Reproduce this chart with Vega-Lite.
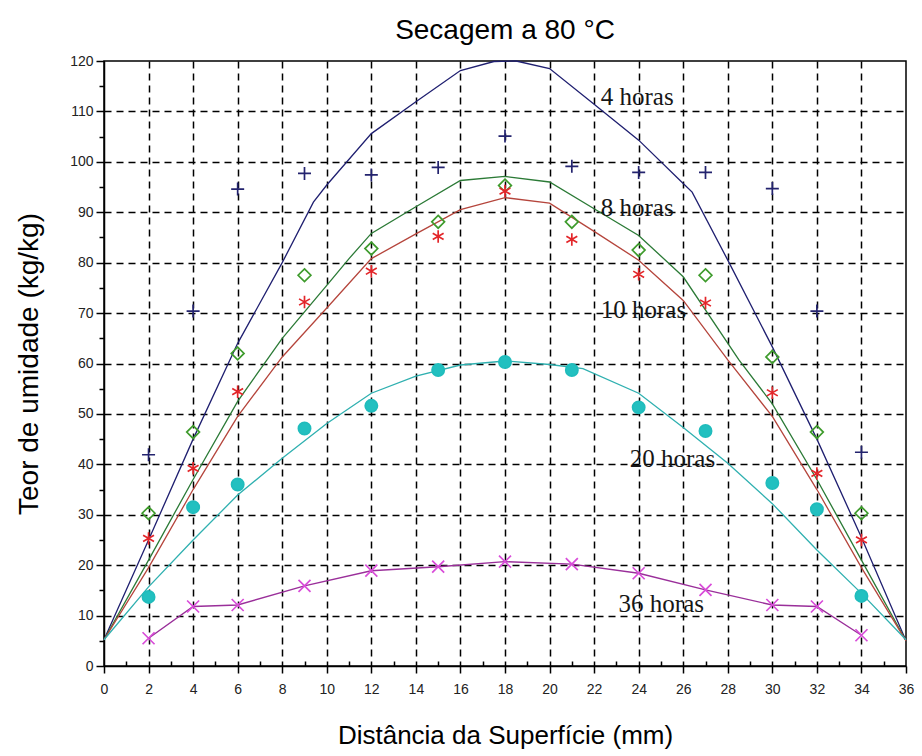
{
  "$schema": "https://vega.github.io/schema/vega-lite/v6.json",
  "width": 802,
  "height": 605,
  "autosize": {"type": "none"},
  "padding": {"left": 104, "top": 61, "right": 16, "bottom": 90},
  "background": "white",
  "config": {
    "view": {"stroke": "black", "strokeWidth": 1.5},
    "font": "Liberation Sans"
  },
  "title": {
    "text": "Secagem a 80 °C",
    "font": "Liberation Sans",
    "fontSize": 28,
    "fontWeight": "normal",
    "color": "black",
    "anchor": "middle",
    "baseline": "bottom",
    "offset": 14,
    "dy": 33
  },
  "datasets": {
    "curvas": [
      {"serie": "4 horas", "x": 0, "y": 5.2}, {"serie": "4 horas", "x": 2, "y": 25}, {"serie": "4 horas", "x": 4, "y": 45},
      {"serie": "4 horas", "x": 6, "y": 64}, {"serie": "4 horas", "x": 8, "y": 80}, {"serie": "4 horas", "x": 9.4, "y": 92},
      {"serie": "4 horas", "x": 10, "y": 95.4}, {"serie": "4 horas", "x": 12, "y": 105.6}, {"serie": "4 horas", "x": 14, "y": 111.9},
      {"serie": "4 horas", "x": 16, "y": 118.1}, {"serie": "4 horas", "x": 17.5, "y": 119.9}, {"serie": "4 horas", "x": 18.5, "y": 120},
      {"serie": "4 horas", "x": 20, "y": 118.5}, {"serie": "4 horas", "x": 22, "y": 111.4}, {"serie": "4 horas", "x": 24, "y": 104.3},
      {"serie": "4 horas", "x": 26, "y": 95.7}, {"serie": "4 horas", "x": 26.4, "y": 94}, {"serie": "4 horas", "x": 28, "y": 80.5},
      {"serie": "4 horas", "x": 30, "y": 63.3}, {"serie": "4 horas", "x": 32, "y": 45}, {"serie": "4 horas", "x": 34, "y": 25.5},
      {"serie": "4 horas", "x": 36, "y": 5},
      {"serie": "8 horas", "x": 0, "y": 5.2}, {"serie": "8 horas", "x": 2, "y": 21}, {"serie": "8 horas", "x": 4, "y": 37},
      {"serie": "8 horas", "x": 6, "y": 52.5}, {"serie": "8 horas", "x": 8, "y": 65}, {"serie": "8 horas", "x": 10, "y": 75.5},
      {"serie": "8 horas", "x": 11, "y": 80.8}, {"serie": "8 horas", "x": 12, "y": 85.8}, {"serie": "8 horas", "x": 14, "y": 91.1},
      {"serie": "8 horas", "x": 16, "y": 96.3}, {"serie": "8 horas", "x": 18, "y": 97.1}, {"serie": "8 horas", "x": 20, "y": 96},
      {"serie": "8 horas", "x": 22, "y": 90.7}, {"serie": "8 horas", "x": 24, "y": 85.4}, {"serie": "8 horas", "x": 26, "y": 77.2},
      {"serie": "8 horas", "x": 28.5, "y": 60.7}, {"serie": "8 horas", "x": 30, "y": 52}, {"serie": "8 horas", "x": 32, "y": 37},
      {"serie": "8 horas", "x": 34, "y": 21}, {"serie": "8 horas", "x": 36, "y": 5},
      {"serie": "10 horas", "x": 0, "y": 5.2}, {"serie": "10 horas", "x": 2, "y": 19.5}, {"serie": "10 horas", "x": 4, "y": 35},
      {"serie": "10 horas", "x": 6, "y": 49.5}, {"serie": "10 horas", "x": 8, "y": 61.3}, {"serie": "10 horas", "x": 10, "y": 71},
      {"serie": "10 horas", "x": 12, "y": 80.8}, {"serie": "10 horas", "x": 14, "y": 85.7}, {"serie": "10 horas", "x": 16, "y": 90.5},
      {"serie": "10 horas", "x": 18, "y": 92.9}, {"serie": "10 horas", "x": 20, "y": 91.8}, {"serie": "10 horas", "x": 22, "y": 86.2},
      {"serie": "10 horas", "x": 24, "y": 80.5}, {"serie": "10 horas", "x": 26, "y": 72.5}, {"serie": "10 horas", "x": 28, "y": 60.7},
      {"serie": "10 horas", "x": 30, "y": 49.5}, {"serie": "10 horas", "x": 32, "y": 35}, {"serie": "10 horas", "x": 34, "y": 19.5},
      {"serie": "10 horas", "x": 36, "y": 5},
      {"serie": "20 horas", "x": 0, "y": 5.2}, {"serie": "20 horas", "x": 2, "y": 15.7}, {"serie": "20 horas", "x": 4, "y": 25},
      {"serie": "20 horas", "x": 6, "y": 33.9}, {"serie": "20 horas", "x": 8, "y": 41.2}, {"serie": "20 horas", "x": 10, "y": 48.1},
      {"serie": "20 horas", "x": 12, "y": 54.1}, {"serie": "20 horas", "x": 14, "y": 57.5}, {"serie": "20 horas", "x": 16, "y": 59.7},
      {"serie": "20 horas", "x": 18, "y": 60.5}, {"serie": "20 horas", "x": 20, "y": 59.8}, {"serie": "20 horas", "x": 21.5, "y": 59},
      {"serie": "20 horas", "x": 24, "y": 54.1}, {"serie": "20 horas", "x": 26, "y": 47.3}, {"serie": "20 horas", "x": 28, "y": 40.2},
      {"serie": "20 horas", "x": 30, "y": 32.2}, {"serie": "20 horas", "x": 32, "y": 23}, {"serie": "20 horas", "x": 34, "y": 14.4},
      {"serie": "20 horas", "x": 36, "y": 5.2}
    ],
    "medidas": [
      {"serie": "4 horas", "x": 2, "y": 41.9}, {"serie": "4 horas", "x": 4, "y": 70.4}, {"serie": "4 horas", "x": 6, "y": 94.6},
      {"serie": "4 horas", "x": 9, "y": 97.7}, {"serie": "4 horas", "x": 12, "y": 97.4}, {"serie": "4 horas", "x": 15, "y": 98.9},
      {"serie": "4 horas", "x": 18, "y": 105.1}, {"serie": "4 horas", "x": 21, "y": 99.1}, {"serie": "4 horas", "x": 24, "y": 97.9},
      {"serie": "4 horas", "x": 27, "y": 97.9}, {"serie": "4 horas", "x": 30, "y": 94.7}, {"serie": "4 horas", "x": 32, "y": 70.4},
      {"serie": "4 horas", "x": 34, "y": 42.4},
      {"serie": "8 horas", "x": 2, "y": 30.3}, {"serie": "8 horas", "x": 4, "y": 46.4}, {"serie": "8 horas", "x": 6, "y": 62},
      {"serie": "8 horas", "x": 9, "y": 77.5}, {"serie": "8 horas", "x": 12, "y": 82.8}, {"serie": "8 horas", "x": 15, "y": 88.1},
      {"serie": "8 horas", "x": 18, "y": 95.3}, {"serie": "8 horas", "x": 21, "y": 88.1}, {"serie": "8 horas", "x": 24, "y": 82.5},
      {"serie": "8 horas", "x": 27, "y": 77.5}, {"serie": "8 horas", "x": 30, "y": 61.3}, {"serie": "8 horas", "x": 32, "y": 46.4},
      {"serie": "8 horas", "x": 34, "y": 30.3},
      {"serie": "10 horas", "x": 2, "y": 25.3}, {"serie": "10 horas", "x": 4, "y": 39.2}, {"serie": "10 horas", "x": 6, "y": 54.4},
      {"serie": "10 horas", "x": 9, "y": 72.2}, {"serie": "10 horas", "x": 12, "y": 78.3}, {"serie": "10 horas", "x": 15, "y": 85.2},
      {"serie": "10 horas", "x": 18, "y": 94.2}, {"serie": "10 horas", "x": 21, "y": 84.6}, {"serie": "10 horas", "x": 24, "y": 77.7},
      {"serie": "10 horas", "x": 27, "y": 72}, {"serie": "10 horas", "x": 30, "y": 54.2}, {"serie": "10 horas", "x": 32, "y": 38.2},
      {"serie": "10 horas", "x": 34, "y": 25},
      {"serie": "20 horas", "x": 2, "y": 13.7}, {"serie": "20 horas", "x": 4, "y": 31.5}, {"serie": "20 horas", "x": 6, "y": 36},
      {"serie": "20 horas", "x": 9, "y": 47.1}, {"serie": "20 horas", "x": 12, "y": 51.6}, {"serie": "20 horas", "x": 15, "y": 58.7},
      {"serie": "20 horas", "x": 18, "y": 60.3}, {"serie": "20 horas", "x": 21, "y": 58.7}, {"serie": "20 horas", "x": 24, "y": 51.3},
      {"serie": "20 horas", "x": 27, "y": 46.6}, {"serie": "20 horas", "x": 30, "y": 36.3}, {"serie": "20 horas", "x": 32, "y": 31.1},
      {"serie": "20 horas", "x": 34, "y": 13.9},
      {"serie": "36 horas", "x": 2, "y": 5.5}, {"serie": "36 horas", "x": 4, "y": 11.8}, {"serie": "36 horas", "x": 6, "y": 12.1},
      {"serie": "36 horas", "x": 9, "y": 15.9}, {"serie": "36 horas", "x": 12, "y": 18.9}, {"serie": "36 horas", "x": 15, "y": 19.7},
      {"serie": "36 horas", "x": 18, "y": 20.7}, {"serie": "36 horas", "x": 21, "y": 20.2}, {"serie": "36 horas", "x": 24, "y": 18.4},
      {"serie": "36 horas", "x": 27, "y": 15.1}, {"serie": "36 horas", "x": 30, "y": 12.1}, {"serie": "36 horas", "x": 32, "y": 11.8},
      {"serie": "36 horas", "x": 34, "y": 6.1}
    ],
    "rotulos": [
      {"texto": "4 horas", "x": 22.3, "y": 112.8},
      {"texto": "8 horas", "x": 22.3, "y": 90.8},
      {"texto": "10 horas", "x": 22.3, "y": 70.6},
      {"texto": "20 horas", "x": 23.6, "y": 41},
      {"texto": "36 horas", "x": 23.1, "y": 12.3}
    ]
  },
  "encoding": {
    "x": {
      "field": "x",
      "type": "quantitative",
      "scale": {"domain": [0, 36], "nice": false, "zero": false},
      "axis": {
        "values": [0, 1, 2, 3, 4, 5, 6, 7, 8, 9, 10, 11, 12, 13, 14, 15, 16, 17, 18, 19, 20, 21, 22, 23, 24, 25, 26, 27, 28, 29, 30, 31, 32, 33, 34, 35, 36],
        "title": "Distância da Superfície (mm)",
        "titleFont": "Liberation Sans",
        "titleFontSize": 26,
        "titleFontWeight": "normal",
        "titleColor": "black",
        "titlePadding": 26,
        "labelExpr": "datum.value % 2 === 0 ? datum.label : ''",
        "labelFont": "Liberation Sans",
        "labelFontSize": 14,
        "labelColor": "#222222",
        "labelPadding": 9,
        "labelFlush": false,
        "labelOverlap": false,
        "grid": true,
        "gridColor": "black",
        "gridDash": [7, 5],
        "gridWidth": 1.5,
        "gridOpacity": {"condition": {"test": "datum.value % 2 === 0 && datum.value > 0 && datum.value < 36", "value": 1}, "value": 0},
        "tickColor": "black",
        "tickWidth": 1.5,
        "tickSize": {"condition": {"test": "datum.value % 2 === 0", "value": 7}, "value": -5},
        "domainColor": "black",
        "domainWidth": 1.5
      }
    },
    "y": {
      "field": "y",
      "type": "quantitative",
      "scale": {"domain": [0, 120], "nice": false, "zero": false},
      "axis": {
        "values": [0, 5, 10, 15, 20, 25, 30, 35, 40, 45, 50, 55, 60, 65, 70, 75, 80, 85, 90, 95, 100, 105, 110, 115, 120],
        "title": "Teor de umidade (kg/kg)",
        "titleFont": "Liberation Sans",
        "titleFontSize": 28,
        "titleFontWeight": "normal",
        "titleColor": "black",
        "titlePadding": 26,
        "labelExpr": "datum.value % 10 === 0 ? datum.label : ''",
        "labelFont": "Liberation Sans",
        "labelFontSize": 14,
        "labelColor": "#222222",
        "labelPadding": 3,
        "labelOverlap": false,
        "grid": true,
        "gridColor": "black",
        "gridDash": [7, 5],
        "gridWidth": 1.5,
        "gridOpacity": {"condition": {"test": "datum.value % 10 === 0 && datum.value > 0 && datum.value < 120", "value": 1}, "value": 0},
        "tickColor": "black",
        "tickWidth": 1.5,
        "tickSize": {"condition": {"test": "datum.value % 10 === 0", "value": 8}, "value": 5},
        "domainColor": "black",
        "domainWidth": 1.5
      }
    }
  },
  "layer": [
    {
      "data": {"name": "curvas"},
      "mark": {"type": "line", "strokeWidth": 1.3},
      "encoding": {
        "color": {
          "field": "serie",
          "type": "nominal",
          "scale": {"domain": ["4 horas", "8 horas", "10 horas", "20 horas"], "range": ["#1f1f70", "#2b7a36", "#b5453c", "#2fb0b0"]},
          "legend": null
        },
        "order": {"field": "x", "type": "quantitative"}
      }
    },
    {
      "data": {"name": "medidas"},
      "transform": [{"filter": "datum.serie === '36 horas'"}],
      "mark": {"type": "line", "strokeWidth": 1.4, "color": "#9a2f9a"},
      "encoding": {"order": {"field": "x", "type": "quantitative"}}
    },
    {
      "data": {"name": "medidas"},
      "mark": {"type": "point", "strokeWidth": 1.7, "opacity": 1},
      "encoding": {
        "shape": {
          "field": "serie",
          "type": "nominal",
          "scale": {
            "domain": ["4 horas", "8 horas", "10 horas", "20 horas", "36 horas"],
            "range": ["M-1,0L1,0M0,-1L0,1", "M0,-1L1,0L0,1L-1,0Z", "M0,-1L0,1M-0.87,-0.5L0.87,0.5M-0.87,0.5L0.87,-0.5", "circle", "M-1,-1L1,1M-1,1L1,-1"]
          },
          "legend": null
        },
        "size": {
          "field": "serie",
          "type": "ordinal",
          "scale": {"domain": ["4 horas", "8 horas", "10 horas", "20 horas", "36 horas"], "range": [169, 144, 150, 70, 400]},
          "legend": null
        },
        "stroke": {
          "field": "serie",
          "type": "nominal",
          "scale": {"domain": ["4 horas", "8 horas", "10 horas", "20 horas", "36 horas"], "range": ["#23236e", "#3e9b2c", "#e3262a", "#20bcbc", "#d94cd9"]},
          "legend": null
        },
        "fill": {
          "field": "serie",
          "type": "nominal",
          "scale": {"domain": ["4 horas", "8 horas", "10 horas", "20 horas", "36 horas"], "range": ["transparent", "transparent", "transparent", "#22c0c0", "transparent"]},
          "legend": null
        }
      }
    },
    {
      "data": {"name": "rotulos"},
      "mark": {"type": "text", "font": "Liberation Serif", "fontSize": 25, "color": "#161616", "align": "left", "baseline": "middle"},
      "encoding": {"text": {"field": "texto", "type": "nominal"}}
    }
  ]
}
